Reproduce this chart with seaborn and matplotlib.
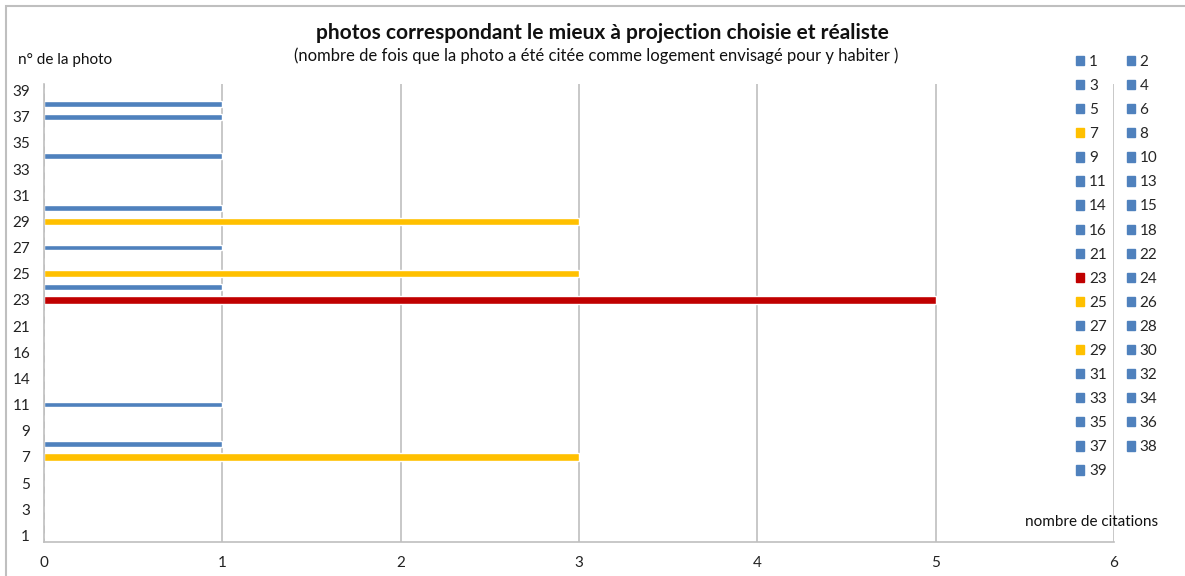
import matplotlib
matplotlib.use("Agg")
import matplotlib.pyplot as plt
import matplotlib.patches as mpatches
import seaborn as sns
import pandas as pd

photos = ["1", "2", "3", "4", "5", "6", "7", "8", "9", "10", "11", "13", "14", "15",
          "16", "18", "21", "22", "23", "24", "25", "26", "27", "28", "29", "30",
          "31", "32", "33", "34", "35", "36", "37", "38", "39"]
citations = [0, 0, 0, 0, 0, 0, 3, 1, 0, 0, 1, 0, 0, 0,
             0, 0, 0, 0, 5, 1, 3, 0, 1, 0, 3, 1,
             0, 0, 0, 1, 0, 0, 1, 1, 0]
highlight = {"7": "#FFC000", "25": "#FFC000", "29": "#FFC000", "23": "#C00000"}
BLUE = "#4F81BD"
colors = [highlight.get(p, BLUE) for p in photos]

title = "photos correspondant le mieux à projection choisie et réaliste"
subtitle = "(nombre de fois que la photo a été citée comme logement envisagé pour y habiter )"
ylabel = "n° de la photo"
xlabel = "nombre de citations"

sns.set_theme(style="white")
plt.rcParams["font.family"] = ["Lato", "DejaVu Sans"]

df = pd.DataFrame({"photo": photos, "citations": citations, "color": colors})
order = photos[::-1]  # first photo at the bottom

fig = plt.figure(figsize=(11.85, 5.76), dpi=100)
ax = fig.add_axes([44 / 1185, 1 - 542 / 576, (1114 - 44) / 1185, (542 - 84) / 576])

blue_df = df[~df["photo"].isin(highlight.keys())]
hi_df = df[df["photo"].isin(highlight.keys())]
sns.barplot(data=blue_df, x="citations", y="photo", order=order, color=BLUE,
            orient="h", width=0.44, saturation=1, ax=ax, errorbar=None)
sns.barplot(data=hi_df, x="citations", y="photo", order=order, hue="photo",
            palette=highlight, orient="h", width=0.55, saturation=1, ax=ax,
            errorbar=None, legend=False)

ax.set_xlim(0, 6)
ax.set_xticks(range(0, 7))
ax.set_xticklabels([str(i) for i in range(0, 7)], fontsize=11, color="#222222")
n = len(photos)
ax.set_ylim(n - 0.5, -0.5)
tick_pos = [order.index(p) for p in photos[::2]]
ax.set_yticks(tick_pos)
ax.set_yticklabels(photos[::2], fontsize=11, color="#222222")
ax.tick_params(axis="x", length=0, pad=10)
ax.tick_params(axis="y", length=0, pad=10)
ax.set_xlabel("")
ax.set_ylabel("")
ax.xaxis.grid(True, color="#BFBFBF", linewidth=1.2)
ax.yaxis.grid(False)
ax.set_axisbelow(True)
for s in ["top", "right"]:
    ax.spines[s].set_visible(False)
for s in ["left", "bottom"]:
    ax.spines[s].set_color("#BFBFBF")
    ax.spines[s].set_linewidth(1.2)

fig.text(602 / 1185, 1 - 33 / 576, title, ha="center", va="center",
         fontsize=15, fontweight="bold", color="#111111")
fig.text(596 / 1185, 1 - 56 / 576, subtitle, ha="center", va="center",
         fontsize=12, color="#111111")
fig.text(18 / 1185, 1 - 60 / 576, ylabel, ha="left", va="center", fontsize=11, color="#111111")
fig.text(1158 / 1185, 1 - 522 / 576, xlabel, ha="right", va="center", fontsize=11, color="#111111")

# legend, row-wise order in two columns
handles = [mpatches.Patch(color=c, label=p) for p, c in zip(photos, colors)]
ordered = handles[0::2] + handles[1::2]
leg = fig.legend(handles=ordered, ncol=2, loc="upper left",
                 bbox_to_anchor=(1076 / 1185, 1 - 55 / 576), frameon=False,
                 fontsize=11, handlelength=0.55, handleheight=0.55, handletextpad=0.3,
                 columnspacing=1.3, labelspacing=0.66, borderaxespad=0, borderpad=0)

# chart border
fig.patches.append(mpatches.Rectangle((6 / 1185, -0.5), 2, 0.5 + 1 - 6 / 576,
                                      transform=fig.transFigure, fill=False,
                                      edgecolor="#BFBFBF", linewidth=1.5))

fig.savefig("out.png", dpi=100)
